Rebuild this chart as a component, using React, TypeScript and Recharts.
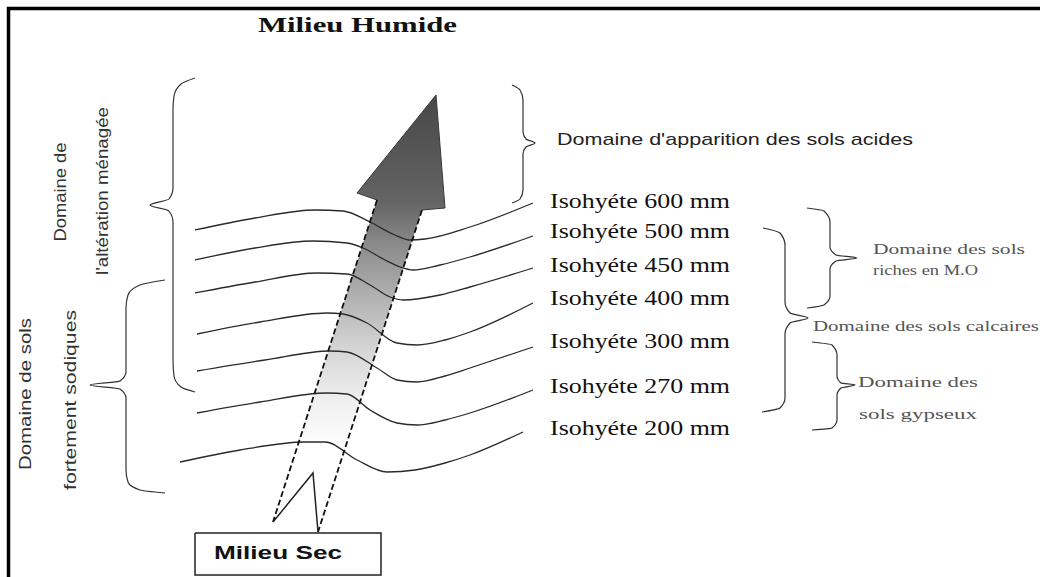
import { ScatterChart, Scatter, XAxis, YAxis } from 'recharts';

type Pt = { x: number; y: number };
type Label = { x: number; y: number; text: string; w: number };

// page frame (only top and left edges are visible in the scan)
const FRAME_TOP: Pt[] = [{ x: 7, y: 8.5 }, { x: 1040, y: 8.5 }];
const FRAME_LEFT: Pt[] = [{ x: 8.5, y: 7 }, { x: 8.5, y: 577 }];

// the big arrow, from "Milieu Sec" up to "Milieu Humide"
const ARROW_OUTLINE: Pt[] = [
  { x: 436, y: 95 }, { x: 445, y: 208 }, { x: 422, y: 210 }, { x: 318, y: 532 },
  { x: 313, y: 473 }, { x: 273, y: 522 }, { x: 377, y: 200 }, { x: 357, y: 193 },
];
const ARROW_HEAD: Pt[] = [
  { x: 377, y: 200 }, { x: 357, y: 193 }, { x: 436, y: 95 }, { x: 445, y: 208 }, { x: 422, y: 210 },
];
const ARROW_LEFT: Pt[] = [{ x: 377, y: 200 }, { x: 273, y: 522 }];
const ARROW_RIGHT: Pt[] = [{ x: 422, y: 210 }, { x: 318, y: 532 }];
const ARROW_NOTCH: Pt[] = [{ x: 273, y: 522 }, { x: 313, y: 473 }, { x: 318, y: 532 }];

const SEC_BOX: Pt[] = [
  { x: 195, y: 533 }, { x: 381, y: 533 }, { x: 381, y: 575 }, { x: 195, y: 575 }, { x: 195, y: 533 },
];

// isohyets, left to right
const ISO_600: Pt[] = [
  { x: 195, y: 230 }, { x: 255, y: 218 }, { x: 315, y: 210 }, { x: 343, y: 211 }, { x: 370, y: 222 },
  { x: 395, y: 235 }, { x: 410, y: 240 }, { x: 425, y: 239 }, { x: 470, y: 227 }, { x: 533, y: 203 },
];
const ISO_500: Pt[] = [
  { x: 195, y: 260 }, { x: 255, y: 248 }, { x: 313, y: 241 }, { x: 347, y: 243 }, { x: 363, y: 248 },
  { x: 385, y: 260 }, { x: 400, y: 267 }, { x: 413, y: 270 }, { x: 440, y: 265 }, { x: 470, y: 257 },
  { x: 533, y: 236 },
];
const ISO_450: Pt[] = [
  { x: 195, y: 293 }, { x: 255, y: 282 }, { x: 317, y: 273 }, { x: 347, y: 274 }, { x: 370, y: 285 },
  { x: 390, y: 297 }, { x: 403, y: 300 }, { x: 440, y: 295 }, { x: 470, y: 287 }, { x: 533, y: 268 },
];
const ISO_400: Pt[] = [
  { x: 197, y: 334 }, { x: 260, y: 322 }, { x: 327, y: 313 }, { x: 343, y: 314 }, { x: 367, y: 323 },
  { x: 397, y: 343 }, { x: 417, y: 345 }, { x: 445, y: 340 }, { x: 470, y: 332 }, { x: 533, y: 303 },
];
const ISO_300: Pt[] = [
  { x: 197, y: 371 }, { x: 265, y: 360 }, { x: 330, y: 351 }, { x: 347, y: 352 }, { x: 377, y: 368 },
  { x: 397, y: 380 }, { x: 417, y: 382 }, { x: 445, y: 376 }, { x: 470, y: 368 }, { x: 533, y: 347 },
];
const ISO_270: Pt[] = [
  { x: 197, y: 413 }, { x: 260, y: 402 }, { x: 327, y: 393 }, { x: 347, y: 394 }, { x: 370, y: 410 },
  { x: 397, y: 423 }, { x: 417, y: 425 }, { x: 445, y: 420 }, { x: 470, y: 413 }, { x: 533, y: 390 },
];
const ISO_200: Pt[] = [
  { x: 180, y: 462 }, { x: 240, y: 450 }, { x: 305, y: 442 }, { x: 325, y: 442 }, { x: 357, y: 460 },
  { x: 387, y: 472 }, { x: 415, y: 470 }, { x: 445, y: 463 }, { x: 470, y: 455 }, { x: 523, y: 432 },
];
const ISOHYETS = [ISO_600, ISO_500, ISO_450, ISO_400, ISO_300, ISO_270, ISO_200];

// curly braces, top to bottom
const BRACE_ALTERATION: Pt[] = [
  { x: 195, y: 78 }, { x: 181, y: 84 }, { x: 174, y: 96 }, { x: 173, y: 110 }, { x: 173, y: 188 },
  { x: 169, y: 199 }, { x: 150, y: 205 }, { x: 169, y: 211 }, { x: 173, y: 222 }, { x: 173, y: 360 },
  { x: 174, y: 376 }, { x: 181, y: 387 }, { x: 195, y: 392 },
];
const BRACE_SODIQUES: Pt[] = [
  { x: 165, y: 280 }, { x: 140, y: 285 }, { x: 128, y: 295 }, { x: 126, y: 308 }, { x: 126, y: 372 },
  { x: 120, y: 381 }, { x: 90, y: 385 }, { x: 120, y: 389 }, { x: 126, y: 398 }, { x: 126, y: 470 },
  { x: 128, y: 482 }, { x: 140, y: 490 }, { x: 165, y: 493 },
];
const BRACE_ACIDES: Pt[] = [
  { x: 512, y: 85 }, { x: 520, y: 90 }, { x: 523, y: 100 }, { x: 523, y: 132 }, { x: 526, y: 139 },
  { x: 535, y: 143 }, { x: 526, y: 147 }, { x: 523, y: 154 }, { x: 523, y: 190 }, { x: 520, y: 199 },
  { x: 512, y: 203 },
];
const BRACE_MO: Pt[] = [
  { x: 807, y: 208 }, { x: 824, y: 211 }, { x: 830, y: 222 }, { x: 830, y: 247 }, { x: 836, y: 255 },
  { x: 857, y: 258 }, { x: 836, y: 261 }, { x: 830, y: 269 }, { x: 830, y: 296 }, { x: 824, y: 305 },
  { x: 807, y: 308 },
];
const BRACE_CALCAIRES: Pt[] = [
  { x: 763, y: 228 }, { x: 780, y: 233 }, { x: 785, y: 245 }, { x: 785, y: 302 }, { x: 790, y: 313 },
  { x: 808, y: 318 }, { x: 790, y: 323 }, { x: 785, y: 334 }, { x: 785, y: 398 }, { x: 780, y: 408 },
  { x: 762, y: 412 },
];
const BRACE_GYPSE: Pt[] = [
  { x: 812, y: 342 }, { x: 832, y: 345 }, { x: 837, y: 355 }, { x: 837, y: 376 }, { x: 841, y: 383 },
  { x: 855, y: 385 }, { x: 841, y: 388 }, { x: 837, y: 395 }, { x: 837, y: 420 }, { x: 832, y: 428 },
  { x: 812, y: 430 },
];
const BRACES = [BRACE_ALTERATION, BRACE_SODIQUES, BRACE_ACIDES, BRACE_MO, BRACE_CALCAIRES, BRACE_GYPSE];

// texts
const TITLE: Label[] = [{ x: 258, y: 32, text: 'Milieu Humide', w: 199 }];
const BOX_LABEL: Label[] = [{ x: 214, y: 559, text: 'Milieu Sec', w: 128 }];
const ISO_LABELS: Label[] = [
  { x: 550, y: 208, text: 'Isohyéte 600 mm', w: 180 },
  { x: 550, y: 238, text: 'Isohyéte 500 mm', w: 180 },
  { x: 550, y: 272, text: 'Isohyéte 450 mm', w: 180 },
  { x: 550, y: 305, text: 'Isohyéte 400 mm', w: 180 },
  { x: 550, y: 348, text: 'Isohyéte 300 mm', w: 180 },
  { x: 550, y: 393, text: 'Isohyéte 270 mm', w: 180 },
  { x: 550, y: 435, text: 'Isohyéte 200 mm', w: 180 },
];
const SIDE_LABELS: Label[] = [
  { x: 60, y: 192, text: 'Domaine de', w: 99 },
  { x: 102, y: 191, text: "l'altération ménagée", w: 168 },
  { x: 25, y: 394, text: 'Domaine de sols', w: 152 },
  { x: 70, y: 400, text: 'fortement sodiques', w: 180 },
];
const ACID_LABEL: Label[] = [{ x: 557, y: 145, text: "Domaine d'apparition des sols acides", w: 356 }];
const SMALL_LABELS: Label[] = [
  { x: 873, y: 254, text: 'Domaine  des  sols', w: 152 },
  { x: 873, y: 275, text: 'riches en M.O', w: 105 },
  { x: 813, y: 331, text: 'Domaine des  sols calcaires', w: 226 },
  { x: 858, y: 387, text: 'Domaine des', w: 120 },
  { x: 859, y: 419, text: 'sols gypseux', w: 118 },
];

const INK = '#2a2a2a';
const SERIF = '"Liberation Serif", "DejaVu Serif", serif';
const SANS = '"Liberation Sans", Arial, sans-serif';

const noDot = () => <g />;

const shadeArrow = (props: any) => {
  const pts = (props.points ?? []).map((p: any) => `${p.x},${p.y}`).join(' ');
  return (
    <g>
      <defs>
        <linearGradient id="arrowShade" gradientUnits="userSpaceOnUse" x1="0" y1="95" x2="0" y2="450">
          <stop offset="0" stopColor="#474747" />
          <stop offset="0.3" stopColor="#646464" />
          <stop offset="0.42" stopColor="#8a8a8a" />
          <stop offset="0.58" stopColor="#b4b4b4" />
          <stop offset="0.72" stopColor="#d6d6d6" />
          <stop offset="0.86" stopColor="#efefef" />
          <stop offset="1" stopColor="#ffffff" />
        </linearGradient>
      </defs>
      <polygon points={pts} fill="url(#arrowShade)" stroke="none" />
    </g>
  );
};

function trace(key: string, data: Pt[], line: object, joint: string = 'linear') {
  return (
    <Scatter
      key={key}
      data={data}
      line={line}
      lineJointType={joint as any}
      shape={noDot}
      isAnimationActive={false}
    />
  );
}

function labels(key: string, data: Label[], style: object, rotated = false) {
  return (
    <Scatter
      key={key}
      data={data}
      isAnimationActive={false}
      shape={(p: any) => (
        <text
          x={p.cx}
          y={p.cy}
          textLength={p.payload.w}
          lengthAdjust="spacingAndGlyphs"
          textAnchor={rotated ? 'middle' : 'start'}
          dy={rotated ? '0.35em' : 0}
          transform={rotated ? `rotate(-90 ${p.cx} ${p.cy})` : undefined}
          {...style}
        >
          {p.payload.text}
        </text>
      )}
    />
  );
}

export default function App() {
  return (
    <div style={{ position: 'absolute', left: 0, top: 0, width: 1040, height: 577, background: '#fff' }}>
      <ScatterChart width={1040} height={577} margin={{ top: 0, right: 0, bottom: 0, left: 0 }}>
        <XAxis type="number" dataKey="x" domain={[0, 1040]} allowDataOverflow hide />
        <YAxis type="number" dataKey="y" domain={[0, 577]} allowDataOverflow reversed hide />

        {trace('arrow-fill', ARROW_OUTLINE, shadeArrow)}
        {ISOHYETS.map((iso, i) => trace(`iso-${i}`, iso, { stroke: INK, strokeWidth: 1.3 }, 'monotoneX'))}
        {trace('arrow-head', ARROW_HEAD, { stroke: '#3a3a3a', strokeWidth: 1 })}
        {trace('arrow-left', ARROW_LEFT, { stroke: '#111', strokeWidth: 1.8, strokeDasharray: '6 3' })}
        {trace('arrow-right', ARROW_RIGHT, { stroke: '#111', strokeWidth: 1.8, strokeDasharray: '6 3' })}
        {trace('arrow-notch', ARROW_NOTCH, { stroke: '#222', strokeWidth: 1.5 })}
        {trace('sec-box', SEC_BOX, { stroke: '#222', strokeWidth: 1.5 })}
        {BRACES.map((b, i) => trace(`brace-${i}`, b, { stroke: '#333', strokeWidth: 1.2 }, 'monotoneY'))}
        {trace('frame-top', FRAME_TOP, { stroke: '#000', strokeWidth: 3.5 })}
        {trace('frame-left', FRAME_LEFT, { stroke: '#000', strokeWidth: 3.5 })}

        {labels('title', TITLE, { fontFamily: SERIF, fontWeight: 700, fontSize: 22, fill: '#111' })}
        {labels('box', BOX_LABEL, { fontFamily: SANS, fontWeight: 700, fontSize: 18, fill: '#111' })}
        {labels('iso-labels', ISO_LABELS, { fontFamily: SERIF, fontSize: 20, fill: '#111' })}
        {labels('side', SIDE_LABELS, { fontFamily: SANS, fontSize: 17, fill: '#333' }, true)}
        {labels('acid', ACID_LABEL, { fontFamily: SANS, fontSize: 17, fill: '#222' })}
        {labels('small', SMALL_LABELS, { fontFamily: SERIF, fontSize: 14, fill: '#555' })}
      </ScatterChart>
    </div>
  );
}
